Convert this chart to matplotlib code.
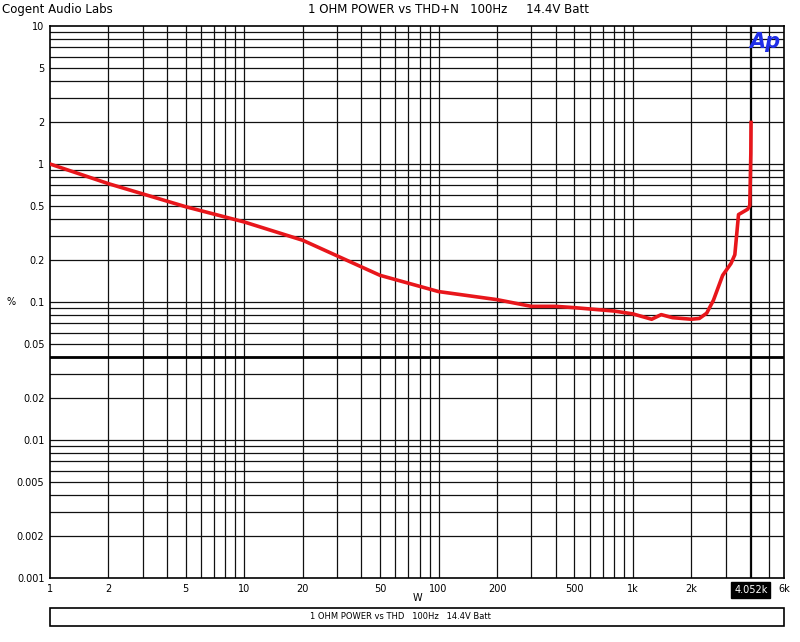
import numpy as np
import matplotlib
matplotlib.use("Agg", force=True)
import matplotlib.pyplot as plt
from matplotlib.patches import Rectangle

power_w = [1, 2, 5, 10, 20, 50, 100, 200, 300, 400, 500, 800, 1000, 1250, 1400,
           1600, 2000, 2200, 2400, 2600, 2900, 3200, 3350, 3500, 3900, 4000, 4050, 4060]
thd_pct = [1.0, 0.72, 0.49, 0.38, 0.28, 0.156, 0.119, 0.104, 0.093, 0.093, 0.091,
           0.086, 0.082, 0.075, 0.081, 0.077, 0.075, 0.076, 0.083, 0.103, 0.156,
           0.19, 0.22, 0.43, 0.47, 0.5, 1.2, 2.0]

yticks = [10, 5, 2, 1, 0.5, 0.2, 0.1, 0.05, 0.02, 0.01, 0.005, 0.002, 0.001]
ytick_labels = ["10", "5", "2", "1", "0.5", "0.2", "0.1", "0.05", "0.02", "0.01",
                "0.005", "0.002", "0.001"]
xticks = [1, 2, 5, 10, 20, 50, 100, 200, 500, 1000, 2000, 6000]
xtick_labels = ["1", "2", "5", "10", "20", "50", "100", "200", "500", "1k", "2k", "6k"]
cursor_x = 4052

fig = plt.figure(figsize=(8.0, 6.42), dpi=100)
ax = fig.add_axes([0.0625, 0.0997, 0.9175, 0.8598])
ax.set_xscale("log")
ax.set_yscale("log")
ax.set_xlim(1, 6000)
ax.set_ylim(0.001, 10)

# full grid on every minor decade step
for d in range(0, 4):
    for m in range(1, 10):
        v = m * 10 ** d
        if 1 < v < 6000:
            ax.axvline(v, color="#111111", lw=0.9, zorder=1)
for d in range(-3, 1):
    for m in range(1, 10):
        v = m * 10.0 ** d
        if 0.001 < v < 10:
            ax.axhline(v, color="#111111", lw=0.9, zorder=1)
ax.axhline(0.04, color="black", lw=2.0, zorder=1)
ax.axvline(cursor_x, color="black", lw=0.9, zorder=1)

ax.plot(power_w, thd_pct, color="#e8161b", lw=2.6, zorder=3)

ax.set_xticks(xticks)
ax.set_xticklabels(xtick_labels, fontsize=7)
ax.set_yticks(yticks)
ax.set_yticklabels(ytick_labels, fontsize=7)
ax.minorticks_off()
ax.tick_params(length=0, pad=4)
for s in ax.spines.values():
    s.set_linewidth(1.2)

ax.text(cursor_x, 0.00082, "4.052k", color="white", fontsize=7, ha="center", va="center",
        bbox=dict(facecolor="black", edgecolor="black", pad=2))
ax.text(0.995, 0.99, "Ap", transform=ax.transAxes, color="#1f2ee8", fontsize=15,
        fontweight="bold", fontstyle="italic", ha="right", va="top")

fig.text(0.002, 0.985, "Cogent Audio Labs", fontsize=8.5, ha="left", va="center")
fig.text(0.56, 0.985, "1 OHM POWER vs THD+N   100Hz     14.4V Batt", fontsize=8.5,
         ha="center", va="center")
fig.text(0.008, 0.53, "%", fontsize=7, ha="left", va="center")
fig.text(0.522, 0.069, "W", fontsize=7, ha="center", va="center")

fig.patches.append(Rectangle((0.0625, 0.025), 0.9175, 0.028, transform=fig.transFigure,
                             fill=False, edgecolor="black", lw=1.2))
fig.text(0.5, 0.039, "1 OHM POWER vs THD   100Hz   14.4V Batt", fontsize=6,
         ha="center", va="center")

fig.savefig("out.png", dpi=100)
